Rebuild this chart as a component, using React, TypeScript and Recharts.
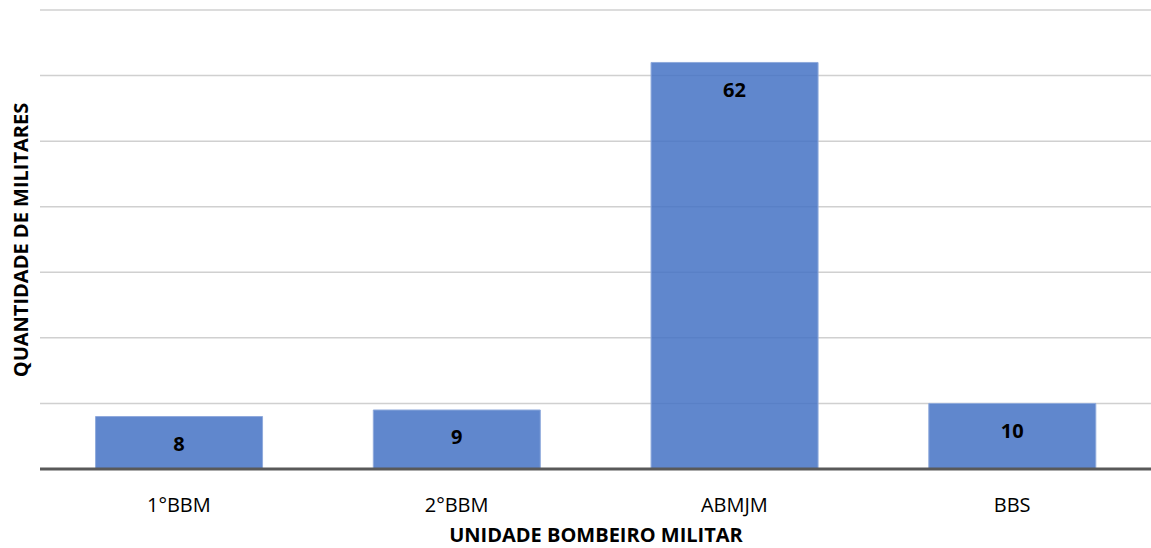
import { BarChart, Bar, XAxis, YAxis, CartesianGrid, LabelList } from 'recharts'

const units = ['1°BBM', '2°BBM', 'ABMJM', 'BBS']
const militares = [8, 9, 62, 10]
const yTicks = [0, 10, 20, 30, 40, 50, 60, 70]

const data = units.map((unidade, i) => ({ unidade, militares: militares[i] }))

const FONT = '"Open Sans", sans-serif'
const titleStyle = { fontSize: 20, fontWeight: 700, fill: '#000', fontFamily: FONT }

export default function App() {
  return (
    <div style={{ position: 'absolute', left: 0, top: 0, background: '#fff', fontFamily: FONT }}>
      <BarChart
        width={1151}
        height={548}
        data={data}
        margin={{ top: 10, right: 0, left: 40, bottom: 0 }}
        barCategoryGap="20%"
      >
        <CartesianGrid vertical={false} stroke="#d0d0d0" strokeWidth={1.5} />
        <XAxis
          dataKey="unidade"
          height={79}
          axisLine={{ stroke: '#595959', strokeWidth: 3 }}
          tickLine={false}
          tick={{ fontSize: 20, fill: '#000', fontFamily: FONT }}
          tickMargin={23}
        />
        {/* axis hidden visually; it still feeds the gridlines */}
        <YAxis
          domain={[0, 70]}
          ticks={yTicks}
          width={0}
          tick={{ fill: 'none', fontSize: 1 }}
          axisLine={false}
          tickLine={false}
        />
        <text x={596} y={534} textAnchor="middle" dominantBaseline="central" style={titleStyle}>
          UNIDADE BOMBEIRO MILITAR
        </text>
        <text
          x={20}
          y={240}
          transform="rotate(-90 20 240)"
          textAnchor="middle"
          dominantBaseline="central"
          style={titleStyle}
        >
          QUANTIDADE DE MILITARES
        </text>
        <Bar
          dataKey="militares"
          fill="#4472C4"
          fillOpacity={0.85}
          stroke="#8faadc"
          strokeWidth={1}
          isAnimationActive={false}
        >
          <LabelList
            dataKey="militares"
            position="insideTop"
            offset={20}
            style={{ fontSize: 20, fontWeight: 700, fill: '#000', fontFamily: FONT }}
          />
        </Bar>
      </BarChart>
    </div>
  )
}
